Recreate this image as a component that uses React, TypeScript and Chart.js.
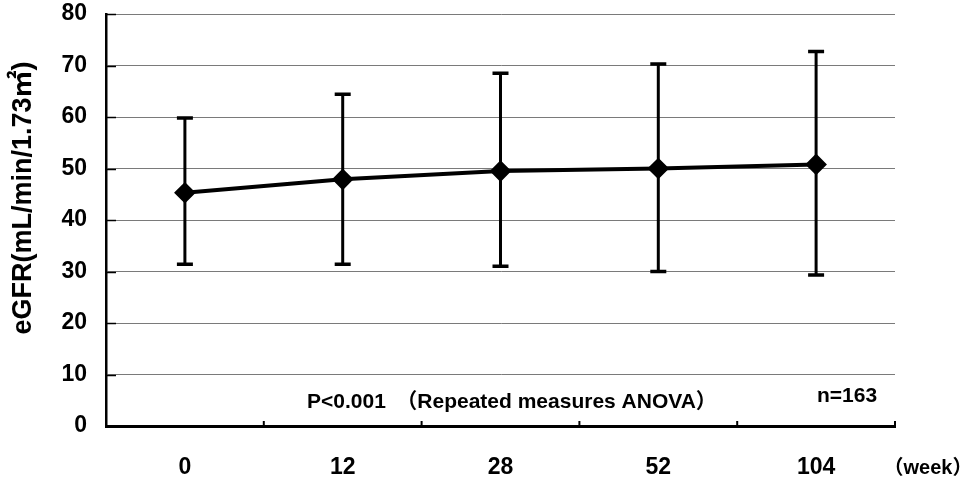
import { useEffect, useRef } from "react";
import { Chart, registerables } from "chart.js";

Chart.register(...registerables);

const weeks = ["0", "12", "28", "52", "104"];
const meanEGFR = [45.3, 47.9, 49.5, 50.0, 50.8];
const upperSD = [59.8, 64.4, 68.5, 70.3, 72.7];
const lowerSD = [31.4, 31.4, 31.0, 30.0, 29.3];
const yAxisTitle = "eGFR(mL/min/1.73㎡)";
const xAxisUnit = "（week）";
const pValueText = "P<0.001　（Repeated measures ANOVA）";
const nText = "n=163";

const FONT = "'Liberation Sans', Arial, 'Noto Sans CJK JP', sans-serif";

const decorPlugin = {
  id: "decor",
  beforeDatasetsDraw(chart: any) {
    const { ctx, scales, chartArea } = chart;
    const x = scales.x;
    const y = scales.y;
    ctx.save();
    ctx.strokeStyle = "#000";
    ctx.lineWidth = 1.5;
    for (let v = 0; v <= 80; v += 10) {
      const py = Math.round(y.getPixelForValue(v)) + 0.5;
      ctx.beginPath();
      ctx.moveTo(chartArea.left, py);
      ctx.lineTo(chartArea.left + 10, py);
      ctx.stroke();
    }
    ctx.lineWidth = 2;
    const step = (chartArea.right - chartArea.left) / weeks.length;
    for (let i = 1; i <= weeks.length; i++) {
      const px = chartArea.left + step * i;
      ctx.beginPath();
      ctx.moveTo(px, chartArea.bottom);
      ctx.lineTo(px, chartArea.bottom - 5);
      ctx.stroke();
    }
    ctx.lineWidth = 3;
    ctx.strokeStyle = "#000";
    weeks.forEach((_, i) => {
      const px = x.getPixelForValue(i);
      const top = y.getPixelForValue(upperSD[i]);
      const bot = y.getPixelForValue(lowerSD[i]);
      ctx.beginPath();
      ctx.moveTo(px, top);
      ctx.lineTo(px, bot);
      ctx.stroke();
      ctx.lineWidth = 3.5;
      ctx.beginPath();
      ctx.moveTo(px - 8, top);
      ctx.lineTo(px + 8, top);
      ctx.moveTo(px - 8, bot);
      ctx.lineTo(px + 8, bot);
      ctx.stroke();
      ctx.lineWidth = 3;
    });
    ctx.restore();
  },
  afterDraw(chart: any) {
    const { ctx } = chart;
    ctx.save();
    ctx.fillStyle = "#000";
    ctx.font = `bold 27px ${FONT}`;
    ctx.textAlign = "center";
    ctx.textBaseline = "middle";
    ctx.translate(24, 198);
    ctx.rotate(-Math.PI / 2);
    ctx.fillText(yAxisTitle, 0, 0);
    ctx.restore();

    ctx.save();
    ctx.fillStyle = "#000";
    ctx.font = `bold 21px ${FONT}`;
    ctx.textBaseline = "alphabetic";
    ctx.textAlign = "left";
    ctx.fillText(pValueText, 307, 408);
    ctx.fillText(nText, 817, 402);
    ctx.textAlign = "center";
    ctx.font = `bold 20px ${FONT}`;
    ctx.fillText(xAxisUnit, 928, 474);
    ctx.restore();
  },
};

export default function App() {
  const ref = useRef<HTMLCanvasElement | null>(null);
  useEffect(() => {
    document.body.style.margin = "0";
    if (!ref.current) return;
    const chart = new Chart(ref.current, {
      type: "line",
      data: {
        labels: weeks,
        datasets: [
          {
            data: meanEGFR,
            borderColor: "#000",
            backgroundColor: "#000",
            borderWidth: 4,
            pointStyle: "rectRot",
            pointRadius: 8,
            pointBackgroundColor: "#000",
            pointBorderColor: "#000",
            tension: 0,
          },
        ],
      },
      options: {
        animation: false,
        responsive: false,
        maintainAspectRatio: false,
        layout: { padding: { top: 14, right: 72, left: 0, bottom: 0 } },
        plugins: { legend: { display: false }, tooltip: { enabled: false } },
        scales: {
          x: {
            type: "category",
            offset: true,
            grid: { display: false, drawTicks: false },
            border: { color: "#000", width: 3 },
            ticks: {
              color: "#000",
              font: { family: FONT, size: 23, weight: "bold" },
              padding: 28,
              maxRotation: 0,
            },
            afterFit: (s: any) => {
              s.height = 54;
              s.paddingLeft = 0;
              s.paddingRight = 0;
            },
          },
          y: {
            min: 0,
            max: 80,
            ticks: {
              stepSize: 10,
              color: "#000",
              font: { family: FONT, size: 23, weight: "bold" },
              padding: 19,
            },
            grid: { color: "#7a7a7a", lineWidth: 1, drawTicks: false },
            border: { color: "#000", width: 2.5 },
            afterFit: (s: any) => {
              s.width = 106;
              s.paddingTop = 0;
              s.paddingBottom = 0;
            },
          },
        },
      },
      plugins: [decorPlugin],
    });
    return () => chart.destroy();
  }, []);
  return (
    <div style={{ width: 967, height: 480, background: "#fff" }}>
      <canvas ref={ref} width={967} height={480} style={{ width: 967, height: 480 }} />
    </div>
  );
}
